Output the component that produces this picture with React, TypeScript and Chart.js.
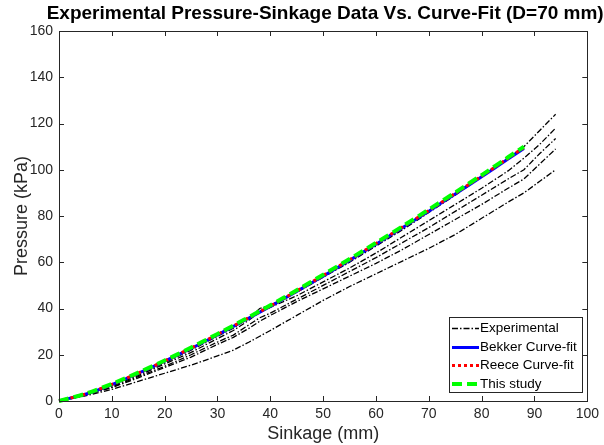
import React, { useEffect, useRef } from 'react';
import { Chart, registerables } from 'chart.js';

Chart.register(...registerables);

// ---- Data ----
const sinkageExp = [0, 5, 10, 15, 20, 25, 30, 33, 36, 38, 40, 45, 50, 55, 60, 65, 70, 75, 80, 85, 88, 91, 94];
const exp1 = [0, 3, 7, 11.5, 16.5, 22, 28, 31.5, 36, 40, 41.5, 47, 53.5, 60, 67, 74, 81.5, 89, 97, 105, 110, 117, 124];
const exp2 = [0, 2.8, 6.5, 11, 16, 21, 27, 30.5, 35, 38.5, 40.5, 45.5, 51.5, 57.5, 64, 71, 78, 85, 92, 99.5, 105, 111, 118];
const exp3 = [0, 2.6, 6, 10.5, 15, 20, 25.5, 28.5, 33, 36, 38, 44, 50, 56, 62, 68.5, 75, 82, 89, 96, 100, 107, 113.5];
const exp4 = [0, 2.5, 5.8, 10, 14.5, 19, 24.5, 27.5, 31.5, 34.5, 37, 43, 48.5, 54, 59.5, 65.5, 72, 78.5, 85, 92, 96, 102.5, 109];
const exp5 = [0, 2.2, 5, 8.5, 12, 15.5, 19.5, 22, 25.5, 28, 30.5, 37, 43.5, 49.5, 55, 60.5, 66, 72, 79, 86, 90, 95, 100];

const sinkageFit = [0, 5, 10, 15, 20, 25, 30, 35, 40, 45, 50, 55, 60, 65, 70, 75, 80, 85, 88];
const bekkerFit = [0, 2.9, 7.1, 12.0, 17.2, 22.7, 28.6, 34.7, 40.9, 47.4, 54.0, 60.8, 67.8, 74.9, 82.1, 89.5, 97.0, 104.6, 109.2];
const reeceFit = [0, 3.0, 7.2, 12.1, 17.3, 22.9, 28.8, 34.9, 41.1, 47.6, 54.3, 61.1, 68.1, 75.2, 82.4, 89.8, 97.3, 105.0, 109.6];
const thisStudyFit = [0, 3.1, 7.4, 12.3, 17.5, 23.1, 29.0, 35.1, 41.4, 47.9, 54.6, 61.4, 68.4, 75.5, 82.8, 90.2, 97.7, 105.4, 110];

const titleText = 'Experimental Pressure-Sinkage Data Vs. Curve-Fit (D=70 mm)';
const xTitle = 'Sinkage (mm)';
const yTitle = 'Pressure (kPa)';
const legendLabels = ['Experimental', 'Bekker Curve-fit', 'Reece Curve-fit', 'This study'];

const FONT = "'Liberation Sans', Arial, Helvetica, sans-serif";
const AXIS_COLOR = '#262626';

const toPts = (xs: number[], ys: number[]) => xs.map((x, i) => ({ x, y: ys[i] }));

const styles = [
  { color: '#000000', width: 1.3, dash: [6, 2, 1.5, 2] },
  { color: '#0000ff', width: 3, dash: [] as number[] },
  { color: '#ff0000', width: 3, dash: [3, 3] },
  { color: '#00ff00', width: 4, dash: [10, 5] },
];

const framePlugin = {
  id: 'frame',
  afterDatasetsDraw(chart: any) {
    const { ctx, chartArea } = chart;
    const { left, right, top, bottom } = chartArea;
    const xs = chart.scales.x;
    const ys = chart.scales.y;
    ctx.save();
    ctx.strokeStyle = AXIS_COLOR;
    ctx.lineWidth = 1;
    ctx.strokeRect(Math.round(left) + 0.5, Math.round(top) + 0.5, Math.round(right - left), Math.round(bottom - top));
    const tl = 5;
    ctx.beginPath();
    xs.ticks.forEach((t: any) => {
      const px = Math.round(xs.getPixelForValue(t.value)) + 0.5;
      ctx.moveTo(px, bottom);
      ctx.lineTo(px, bottom - tl);
      ctx.moveTo(px, top);
      ctx.lineTo(px, top + tl);
    });
    ys.ticks.forEach((t: any) => {
      const py = Math.round(ys.getPixelForValue(t.value)) + 0.5;
      ctx.moveTo(left, py);
      ctx.lineTo(left + tl, py);
      ctx.moveTo(right, py);
      ctx.lineTo(right - tl, py);
    });
    ctx.stroke();

    // title
    ctx.fillStyle = '#000000';
    ctx.font = `bold 19px ${FONT}`;
    ctx.textAlign = 'center';
    ctx.textBaseline = 'middle';
    ctx.fillText(titleText, (left + right) / 2 + 2, 14);

    // legend
    const lx = 449, ly = 317, lw = 133, lh = 75;
    ctx.fillStyle = '#ffffff';
    ctx.fillRect(lx, ly, lw, lh);
    ctx.strokeStyle = AXIS_COLOR;
    ctx.lineWidth = 1;
    ctx.strokeRect(lx + 0.5, ly + 0.5, lw, lh);
    const rows = [328, 346.5, 365, 383.5];
    legendLabels.forEach((lab, i) => {
      const s = styles[i];
      const y = Math.round(rows[i]) + (Math.round(s.width) % 2 === 1 ? 0.5 : 0);
      ctx.beginPath();
      ctx.strokeStyle = s.color;
      ctx.lineWidth = s.width;
      ctx.setLineDash(s.dash);
      ctx.moveTo(452, y);
      ctx.lineTo(479, y);
      ctx.stroke();
      ctx.setLineDash([]);
      ctx.fillStyle = '#000000';
      ctx.font = `13.5px ${FONT}`;
      ctx.textAlign = 'left';
      ctx.textBaseline = 'middle';
      ctx.fillText(lab, 480, rows[i] + 0.5);
    });
    ctx.restore();
  },
};

export default function App() {
  const canvasRef = useRef<HTMLCanvasElement | null>(null);

  useEffect(() => {
    document.body.style.margin = '0';
    const canvas = canvasRef.current;
    if (!canvas) return;
    const expSets = [exp1, exp2, exp3, exp4, exp5].map((ys, i) => ({
      label: i === 0 ? legendLabels[0] : legendLabels[0] + ' ' + (i + 1),
      data: toPts(sinkageExp, ys),
      borderColor: styles[0].color,
      borderWidth: styles[0].width,
      borderDash: styles[0].dash,
      pointRadius: 0,
      fill: false,
      tension: 0,
      order: 3,
    }));
    const fitSets = [bekkerFit, reeceFit, thisStudyFit].map((ys, i) => ({
      label: legendLabels[i + 1],
      data: toPts(sinkageFit, ys),
      borderColor: styles[i + 1].color,
      borderWidth: styles[i + 1].width,
      borderDash: styles[i + 1].dash,
      pointRadius: 0,
      fill: false,
      tension: 0.2,
      order: 2 - i,
      clip: 4,
    }));
    const chart = new Chart(canvas, {
      type: 'line',
      data: { datasets: [...expSets, ...fitSets] as any },
      plugins: [framePlugin],
      options: {
        animation: false,
        responsive: false,
        maintainAspectRatio: false,
        layout: { padding: { left: 0, right: 16, top: 31, bottom: 0 } },
        plugins: {
          legend: { display: false },
          title: { display: false },
          tooltip: { enabled: false },
        },
        scales: {
          x: {
            type: 'linear',
            min: 0,
            max: 100,
            border: { display: false },
            grid: { display: false, drawTicks: false },
            ticks: {
              stepSize: 10,
              padding: 5,
              color: AXIS_COLOR,
              font: { family: FONT, size: 14 },
              maxRotation: 0,
            },
            title: {
              display: true,
              text: xTitle,
              color: AXIS_COLOR,
              font: { family: FONT, size: 18 },
              padding: { top: 3, bottom: 0 },
            },
            afterFit(scale: any) {
              scale.height = 44;
            },
          },
          y: {
            type: 'linear',
            min: 0,
            max: 160,
            border: { display: false },
            grid: { display: false, drawTicks: false },
            ticks: {
              stepSize: 20,
              padding: 6,
              color: AXIS_COLOR,
              font: { family: FONT, size: 14 },
            },
            title: {
              display: true,
              text: yTitle,
              color: AXIS_COLOR,
              font: { family: FONT, size: 18 },
              padding: { top: 11, bottom: 0 },
            },
            afterFit(scale: any) {
              scale.width = 59;
            },
          },
        },
      },
    });
    return () => chart.destroy();
  }, []);

  return (
    <div style={{ width: 604, height: 445, background: '#fff' }}>
      <canvas ref={canvasRef} width={604} height={445} style={{ display: 'block', width: 604, height: 445 }} />
    </div>
  );
}
